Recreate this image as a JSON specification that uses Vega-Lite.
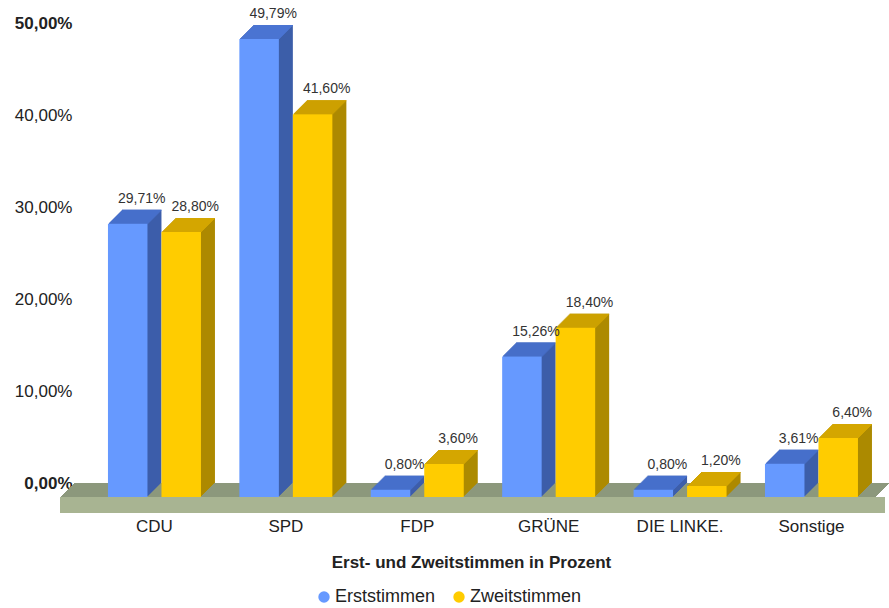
{
"$schema": "https://vega.github.io/schema/vega-lite/v6.json",
"width": 815, "height": 460,
"autosize": {"type": "none"},
"padding": {"left": 74, "top": 23, "right": 0, "bottom": 125},
"background": "white",
"config": {"view": {"stroke": null}, "font": "Liberation Sans",
  "locale": {"number": {"decimal": ",", "thousands": ".", "grouping": [3], "currency": ["", "%"]}}},
"datasets": {"votes": [
  {"partei": "CDU", "serie": "Erststimmen", "pct": 29.71},
  {"partei": "CDU", "serie": "Zweitstimmen", "pct": 28.80},
  {"partei": "SPD", "serie": "Erststimmen", "pct": 49.79},
  {"partei": "SPD", "serie": "Zweitstimmen", "pct": 41.60},
  {"partei": "FDP", "serie": "Erststimmen", "pct": 0.80},
  {"partei": "FDP", "serie": "Zweitstimmen", "pct": 3.60},
  {"partei": "GRÜNE", "serie": "Erststimmen", "pct": 15.26},
  {"partei": "GRÜNE", "serie": "Zweitstimmen", "pct": 18.40},
  {"partei": "DIE LINKE.", "serie": "Erststimmen", "pct": 0.80},
  {"partei": "DIE LINKE.", "serie": "Zweitstimmen", "pct": 1.20},
  {"partei": "Sonstige", "serie": "Erststimmen", "pct": 3.61},
  {"partei": "Sonstige", "serie": "Zweitstimmen", "pct": 6.40}
]},
"resolve": {"scale": {"x": "independent"}},
"layer": [
  {"data": {"values": [{}]},
   "encoding": {
     "x": {"datum": 0, "type": "quantitative", "scale": {"domain": [0, 1], "nice": false, "zero": false}, "axis": null},
     "x2": {"datum": 1},
     "y": {"datum": 0, "type": "quantitative"}
   },
   "layer": [
    {"mark": {"type": "rule", "color": "#8c987c", "strokeWidth": 1, "xOffset": 0, "x2Offset": 0, "yOffset": 0.5}},
    {"mark": {"type": "rule", "color": "#8c987c", "strokeWidth": 1, "xOffset": -1, "x2Offset": -1, "yOffset": 1.5}},
    {"mark": {"type": "rule", "color": "#8c987c", "strokeWidth": 1, "xOffset": -2, "x2Offset": -2, "yOffset": 2.5}},
    {"mark": {"type": "rule", "color": "#8c987c", "strokeWidth": 1, "xOffset": -3, "x2Offset": -3, "yOffset": 3.5}},
    {"mark": {"type": "rule", "color": "#8c987c", "strokeWidth": 1, "xOffset": -4, "x2Offset": -4, "yOffset": 4.5}},
    {"mark": {"type": "rule", "color": "#8c987c", "strokeWidth": 1, "xOffset": -5, "x2Offset": -5, "yOffset": 5.5}},
    {"mark": {"type": "rule", "color": "#8c987c", "strokeWidth": 1, "xOffset": -6, "x2Offset": -6, "yOffset": 6.5}},
    {"mark": {"type": "rule", "color": "#8c987c", "strokeWidth": 1, "xOffset": -7, "x2Offset": -7, "yOffset": 7.5}},
    {"mark": {"type": "rule", "color": "#8c987c", "strokeWidth": 1, "xOffset": -8, "x2Offset": -8, "yOffset": 8.5}},
    {"mark": {"type": "rule", "color": "#8c987c", "strokeWidth": 1, "xOffset": -9, "x2Offset": -9, "yOffset": 9.5}},
    {"mark": {"type": "rule", "color": "#8c987c", "strokeWidth": 1, "xOffset": -10, "x2Offset": -10, "yOffset": 10.5}},
    {"mark": {"type": "rule", "color": "#8c987c", "strokeWidth": 1, "xOffset": -11, "x2Offset": -11, "yOffset": 11.5}},
    {"mark": {"type": "rule", "color": "#8c987c", "strokeWidth": 1, "xOffset": -12, "x2Offset": -12, "yOffset": 12.5}},
    {"mark": {"type": "rule", "color": "#8c987c", "strokeWidth": 1, "xOffset": -13, "x2Offset": -13, "yOffset": 13.5}},
    {"mark": {"type": "rule", "color": "#a8b492", "strokeWidth": 16, "xOffset": -14, "x2Offset": -4, "yOffset": 22}}
   ]},
  {"data": {"name": "votes"},
   "resolve": {"scale": {"xOffset": "independent"}},
   "encoding": {
     "x": {"field": "partei", "type": "nominal", "sort": null,
       "scale": {"domain": ["CDU", "SPD", "FDP", "GRÜNE", "DIE LINKE.", "Sonstige"], "paddingInner": 0.2922, "paddingOuter": 0.2473, "align": 0.738},
       "axis": {"title": "Erst- und Zweitstimmen in Prozent", "labelAngle": 0, "labelOffset": -14, "labelPadding": 35, "ticks": false, "tickSize": 0, "domain": false, "grid": false,
         "labelFont": "Liberation Sans", "labelFontSize": 17, "labelColor": "#222",
         "titleFont": "Liberation Sans", "titleFontSize": 17, "titleFontWeight": "bold", "titleColor": "#222",
         "titleX": 397, "titleY": 79, "titleBaseline": "middle", "titleAlign": "center"}},
     "y": {"field": "pct", "type": "quantitative",
       "scale": {"domain": [0, 50], "nice": false, "zero": true},
       "axis": {"title": null, "values": [0, 10, 20, 30, 40, 50], "format": "$.2f", "ticks": false, "domain": false, "labelPadding": 2,
         "labelFont": "Liberation Sans", "labelFontSize": 17, "labelColor": "#222",
         "labelFontWeight": {"condition": {"test": "datum.value === 0 || datum.value === 50", "value": "bold"}, "value": "normal"},
         "gridColor": "#d2d2d2", "gridWidth": 1,
         "gridOpacity": {"condition": {"test": "datum.value === 50", "value": 0}, "value": 1}}}
   },
   "layer": [
    {"mark": {"type": "bar", "yOffset": 0, "y2Offset": 0}, "encoding": {"xOffset": {"field": "serie", "type": "nominal", "scale": {"domain": ["Erststimmen", "Zweitstimmen"], "range": [0, 93], "paddingInner": 0.2617, "paddingOuter": 0}}, "color": {"condition": {"test": "datum.serie === 'Erststimmen'", "value": "#3d5eaa"}, "value": "#ad8a00"}}},
    {"mark": {"type": "bar", "yOffset": 1, "y2Offset": 1}, "encoding": {"xOffset": {"field": "serie", "type": "nominal", "scale": {"domain": ["Erststimmen", "Zweitstimmen"], "range": [-1, 92], "paddingInner": 0.2617, "paddingOuter": 0}}, "color": {"condition": {"test": "datum.serie === 'Erststimmen'", "value": "#3d5eaa"}, "value": "#ad8a00"}}},
    {"mark": {"type": "bar", "yOffset": 2, "y2Offset": 2}, "encoding": {"xOffset": {"field": "serie", "type": "nominal", "scale": {"domain": ["Erststimmen", "Zweitstimmen"], "range": [-2, 91], "paddingInner": 0.2617, "paddingOuter": 0}}, "color": {"condition": {"test": "datum.serie === 'Erststimmen'", "value": "#3d5eaa"}, "value": "#ad8a00"}}},
    {"mark": {"type": "bar", "yOffset": 3, "y2Offset": 3}, "encoding": {"xOffset": {"field": "serie", "type": "nominal", "scale": {"domain": ["Erststimmen", "Zweitstimmen"], "range": [-3, 90], "paddingInner": 0.2617, "paddingOuter": 0}}, "color": {"condition": {"test": "datum.serie === 'Erststimmen'", "value": "#3d5eaa"}, "value": "#ad8a00"}}},
    {"mark": {"type": "bar", "yOffset": 4, "y2Offset": 4}, "encoding": {"xOffset": {"field": "serie", "type": "nominal", "scale": {"domain": ["Erststimmen", "Zweitstimmen"], "range": [-4, 89], "paddingInner": 0.2617, "paddingOuter": 0}}, "color": {"condition": {"test": "datum.serie === 'Erststimmen'", "value": "#3d5eaa"}, "value": "#ad8a00"}}},
    {"mark": {"type": "bar", "yOffset": 5, "y2Offset": 5}, "encoding": {"xOffset": {"field": "serie", "type": "nominal", "scale": {"domain": ["Erststimmen", "Zweitstimmen"], "range": [-5, 88], "paddingInner": 0.2617, "paddingOuter": 0}}, "color": {"condition": {"test": "datum.serie === 'Erststimmen'", "value": "#3d5eaa"}, "value": "#ad8a00"}}},
    {"mark": {"type": "bar", "yOffset": 6, "y2Offset": 6}, "encoding": {"xOffset": {"field": "serie", "type": "nominal", "scale": {"domain": ["Erststimmen", "Zweitstimmen"], "range": [-6, 87], "paddingInner": 0.2617, "paddingOuter": 0}}, "color": {"condition": {"test": "datum.serie === 'Erststimmen'", "value": "#3d5eaa"}, "value": "#ad8a00"}}},
    {"mark": {"type": "bar", "yOffset": 7, "y2Offset": 7}, "encoding": {"xOffset": {"field": "serie", "type": "nominal", "scale": {"domain": ["Erststimmen", "Zweitstimmen"], "range": [-7, 86], "paddingInner": 0.2617, "paddingOuter": 0}}, "color": {"condition": {"test": "datum.serie === 'Erststimmen'", "value": "#3d5eaa"}, "value": "#ad8a00"}}},
    {"mark": {"type": "bar", "yOffset": 8, "y2Offset": 8}, "encoding": {"xOffset": {"field": "serie", "type": "nominal", "scale": {"domain": ["Erststimmen", "Zweitstimmen"], "range": [-8, 85], "paddingInner": 0.2617, "paddingOuter": 0}}, "color": {"condition": {"test": "datum.serie === 'Erststimmen'", "value": "#3d5eaa"}, "value": "#ad8a00"}}},
    {"mark": {"type": "bar", "yOffset": 9, "y2Offset": 9}, "encoding": {"xOffset": {"field": "serie", "type": "nominal", "scale": {"domain": ["Erststimmen", "Zweitstimmen"], "range": [-9, 84], "paddingInner": 0.2617, "paddingOuter": 0}}, "color": {"condition": {"test": "datum.serie === 'Erststimmen'", "value": "#3d5eaa"}, "value": "#ad8a00"}}},
    {"mark": {"type": "bar", "yOffset": 10, "y2Offset": 10}, "encoding": {"xOffset": {"field": "serie", "type": "nominal", "scale": {"domain": ["Erststimmen", "Zweitstimmen"], "range": [-10, 83], "paddingInner": 0.2617, "paddingOuter": 0}}, "color": {"condition": {"test": "datum.serie === 'Erststimmen'", "value": "#3d5eaa"}, "value": "#ad8a00"}}},
    {"mark": {"type": "bar", "yOffset": 11, "y2Offset": 11}, "encoding": {"xOffset": {"field": "serie", "type": "nominal", "scale": {"domain": ["Erststimmen", "Zweitstimmen"], "range": [-11, 82], "paddingInner": 0.2617, "paddingOuter": 0}}, "color": {"condition": {"test": "datum.serie === 'Erststimmen'", "value": "#3d5eaa"}, "value": "#ad8a00"}}},
    {"mark": {"type": "bar", "yOffset": 12, "y2Offset": 12}, "encoding": {"xOffset": {"field": "serie", "type": "nominal", "scale": {"domain": ["Erststimmen", "Zweitstimmen"], "range": [-12, 81], "paddingInner": 0.2617, "paddingOuter": 0}}, "color": {"condition": {"test": "datum.serie === 'Erststimmen'", "value": "#3d5eaa"}, "value": "#ad8a00"}}},
    {"mark": {"type": "bar", "yOffset": 13, "y2Offset": 13}, "encoding": {"xOffset": {"field": "serie", "type": "nominal", "scale": {"domain": ["Erststimmen", "Zweitstimmen"], "range": [-13, 80], "paddingInner": 0.2617, "paddingOuter": 0}}, "color": {"condition": {"test": "datum.serie === 'Erststimmen'", "value": "#3d5eaa"}, "value": "#ad8a00"}}},
    {"mark": {"type": "bar", "yOffset": 0, "y2Offset": 1}, "encoding": {"y2": {"field": "pct"}, "xOffset": {"field": "serie", "type": "nominal", "scale": {"domain": ["Erststimmen", "Zweitstimmen"], "range": [0, 93], "paddingInner": 0.2617, "paddingOuter": 0}}, "color": {"condition": {"test": "datum.serie === 'Erststimmen'", "value": "#4a74d2"}, "value": "#d4a600"}}},
    {"mark": {"type": "bar", "yOffset": 1, "y2Offset": 2}, "encoding": {"y2": {"field": "pct"}, "xOffset": {"field": "serie", "type": "nominal", "scale": {"domain": ["Erststimmen", "Zweitstimmen"], "range": [-1, 92], "paddingInner": 0.2617, "paddingOuter": 0}}, "color": {"condition": {"test": "datum.serie === 'Erststimmen'", "value": "#4a74d2"}, "value": "#d4a600"}}},
    {"mark": {"type": "bar", "yOffset": 2, "y2Offset": 3}, "encoding": {"y2": {"field": "pct"}, "xOffset": {"field": "serie", "type": "nominal", "scale": {"domain": ["Erststimmen", "Zweitstimmen"], "range": [-2, 91], "paddingInner": 0.2617, "paddingOuter": 0}}, "color": {"condition": {"test": "datum.serie === 'Erststimmen'", "value": "#4a74d2"}, "value": "#d4a600"}}},
    {"mark": {"type": "bar", "yOffset": 3, "y2Offset": 4}, "encoding": {"y2": {"field": "pct"}, "xOffset": {"field": "serie", "type": "nominal", "scale": {"domain": ["Erststimmen", "Zweitstimmen"], "range": [-3, 90], "paddingInner": 0.2617, "paddingOuter": 0}}, "color": {"condition": {"test": "datum.serie === 'Erststimmen'", "value": "#4a74d2"}, "value": "#d4a600"}}},
    {"mark": {"type": "bar", "yOffset": 4, "y2Offset": 5}, "encoding": {"y2": {"field": "pct"}, "xOffset": {"field": "serie", "type": "nominal", "scale": {"domain": ["Erststimmen", "Zweitstimmen"], "range": [-4, 89], "paddingInner": 0.2617, "paddingOuter": 0}}, "color": {"condition": {"test": "datum.serie === 'Erststimmen'", "value": "#4a74d2"}, "value": "#d4a600"}}},
    {"mark": {"type": "bar", "yOffset": 5, "y2Offset": 6}, "encoding": {"y2": {"field": "pct"}, "xOffset": {"field": "serie", "type": "nominal", "scale": {"domain": ["Erststimmen", "Zweitstimmen"], "range": [-5, 88], "paddingInner": 0.2617, "paddingOuter": 0}}, "color": {"condition": {"test": "datum.serie === 'Erststimmen'", "value": "#4a74d2"}, "value": "#d4a600"}}},
    {"mark": {"type": "bar", "yOffset": 6, "y2Offset": 7}, "encoding": {"y2": {"field": "pct"}, "xOffset": {"field": "serie", "type": "nominal", "scale": {"domain": ["Erststimmen", "Zweitstimmen"], "range": [-6, 87], "paddingInner": 0.2617, "paddingOuter": 0}}, "color": {"condition": {"test": "datum.serie === 'Erststimmen'", "value": "#4a74d2"}, "value": "#d4a600"}}},
    {"mark": {"type": "bar", "yOffset": 7, "y2Offset": 8}, "encoding": {"y2": {"field": "pct"}, "xOffset": {"field": "serie", "type": "nominal", "scale": {"domain": ["Erststimmen", "Zweitstimmen"], "range": [-7, 86], "paddingInner": 0.2617, "paddingOuter": 0}}, "color": {"condition": {"test": "datum.serie === 'Erststimmen'", "value": "#4a74d2"}, "value": "#d4a600"}}},
    {"mark": {"type": "bar", "yOffset": 8, "y2Offset": 9}, "encoding": {"y2": {"field": "pct"}, "xOffset": {"field": "serie", "type": "nominal", "scale": {"domain": ["Erststimmen", "Zweitstimmen"], "range": [-8, 85], "paddingInner": 0.2617, "paddingOuter": 0}}, "color": {"condition": {"test": "datum.serie === 'Erststimmen'", "value": "#4a74d2"}, "value": "#d4a600"}}},
    {"mark": {"type": "bar", "yOffset": 9, "y2Offset": 10}, "encoding": {"y2": {"field": "pct"}, "xOffset": {"field": "serie", "type": "nominal", "scale": {"domain": ["Erststimmen", "Zweitstimmen"], "range": [-9, 84], "paddingInner": 0.2617, "paddingOuter": 0}}, "color": {"condition": {"test": "datum.serie === 'Erststimmen'", "value": "#4a74d2"}, "value": "#d4a600"}}},
    {"mark": {"type": "bar", "yOffset": 10, "y2Offset": 11}, "encoding": {"y2": {"field": "pct"}, "xOffset": {"field": "serie", "type": "nominal", "scale": {"domain": ["Erststimmen", "Zweitstimmen"], "range": [-10, 83], "paddingInner": 0.2617, "paddingOuter": 0}}, "color": {"condition": {"test": "datum.serie === 'Erststimmen'", "value": "#4a74d2"}, "value": "#d4a600"}}},
    {"mark": {"type": "bar", "yOffset": 11, "y2Offset": 12}, "encoding": {"y2": {"field": "pct"}, "xOffset": {"field": "serie", "type": "nominal", "scale": {"domain": ["Erststimmen", "Zweitstimmen"], "range": [-11, 82], "paddingInner": 0.2617, "paddingOuter": 0}}, "color": {"condition": {"test": "datum.serie === 'Erststimmen'", "value": "#4a74d2"}, "value": "#d4a600"}}},
    {"mark": {"type": "bar", "yOffset": 12, "y2Offset": 13}, "encoding": {"y2": {"field": "pct"}, "xOffset": {"field": "serie", "type": "nominal", "scale": {"domain": ["Erststimmen", "Zweitstimmen"], "range": [-12, 81], "paddingInner": 0.2617, "paddingOuter": 0}}, "color": {"condition": {"test": "datum.serie === 'Erststimmen'", "value": "#4a74d2"}, "value": "#d4a600"}}},
    {"mark": {"type": "bar", "yOffset": 13, "y2Offset": 14}, "encoding": {"y2": {"field": "pct"}, "xOffset": {"field": "serie", "type": "nominal", "scale": {"domain": ["Erststimmen", "Zweitstimmen"], "range": [-13, 80], "paddingInner": 0.2617, "paddingOuter": 0}}, "color": {"condition": {"test": "datum.serie === 'Erststimmen'", "value": "#4a74d2"}, "value": "#d4a600"}}},
    {"mark": {"type": "bar", "yOffset": 14, "y2Offset": 14},
     "encoding": {"xOffset": {"field": "serie", "type": "nominal", "scale": {"domain": ["Erststimmen", "Zweitstimmen"], "range": [-14, 79], "paddingInner": 0.2617, "paddingOuter": 0}},
       "color": {"field": "serie", "type": "nominal",
       "scale": {"domain": ["Erststimmen", "Zweitstimmen"], "range": ["#6699ff", "#ffcc00"]},
       "legend": {"orient": "none", "direction": "horizontal", "legendX": 241, "legendY": 565, "title": null,
         "symbolType": "circle", "symbolSize": 130, "symbolStrokeWidth": 0, "symbolOpacity": 1,
         "labelFont": "Liberation Sans", "labelFontSize": 18, "labelColor": "#222", "labelOffset": 2, "columnPadding": 14}}}},
    {"mark": {"type": "text", "baseline": "alphabetic", "dy": -7, "font": "Liberation Sans", "fontSize": 14, "color": "#333"},
     "encoding": {"xOffset": {"field": "serie", "type": "nominal", "scale": {"type": "point", "domain": ["Erststimmen", "Zweitstimmen"], "range": [19.75, 73.25], "padding": 0}},
       "text": {"field": "pct", "type": "quantitative", "format": "$.2f"}}}
   ]}
]
}
